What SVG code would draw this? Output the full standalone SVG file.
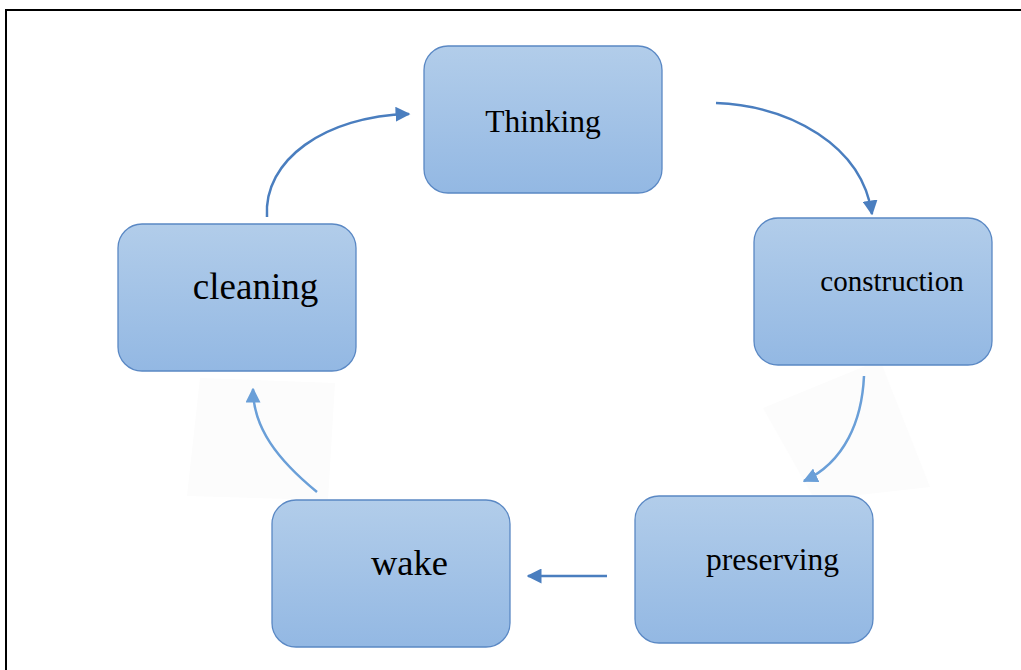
<svg xmlns="http://www.w3.org/2000/svg" width="1021" height="670" viewBox="0 0 1021 670">
<defs>
<linearGradient id="g" x1="0" y1="0" x2="0" y2="1">
<stop offset="0" stop-color="#b2cdea"/>
<stop offset="1" stop-color="#93b8e3"/>
</linearGradient>
<marker id="ah" viewBox="0 0 10 10" refX="9" refY="5" markerWidth="6" markerHeight="6" markerUnits="strokeWidth" orient="auto">
<path d="M0,0 L10,5 L0,10 z" fill="#4a7ebf"/>
</marker>
<marker id="ahf" viewBox="0 0 10 10" refX="9" refY="5" markerWidth="6" markerHeight="6" markerUnits="strokeWidth" orient="auto">
<path d="M0,0 L10,5 L0,10 z" fill="#6a9fd8"/>
</marker>
<filter id="blur" x="-20%" y="-20%" width="140%" height="140%"><feGaussianBlur stdDeviation="0.7"/></filter>
</defs>
<style>
.box{fill:url(#g);stroke:#5a88c4;stroke-width:1.3}
.lbl{font-family:"Liberation Serif","Times New Roman",serif;fill:#000;text-anchor:middle}
.c{fill:none;stroke:#4a7ebf;stroke-width:2.5}
.cf{fill:none;stroke:#6a9fd8;stroke-width:2.5}
</style>
<rect x="0" y="0" width="1021" height="670" fill="#fff"/>
<rect x="6" y="10" width="1030" height="690" fill="none" stroke="#000" stroke-width="2"/>
<g id="faded-backgrounds">
<polygon points="200,378 335,383 328,500 187,496" fill="#fcfcfc"/>
<polygon points="763,408 880,360 930,487 815,500" fill="#fcfcfc"/>
</g>
<g id="connectors">
<path class="c" d="M267,217 C263,160 325,116 409,114" marker-end="url(#ah)"/>
<path class="c" d="M716,103 C790,106 862,145 872,214" marker-end="url(#ah)"/>
<path class="cf" filter="url(#blur)" d="M864,376 C862,420 845,462 804,481" marker-end="url(#ahf)"/>
<path class="c" d="M607,576 L528,576" marker-end="url(#ah)"/>
<path class="cf" filter="url(#blur)" d="M317,492 C278,460 253,428 253,389" marker-end="url(#ahf)"/>
</g>
<g id="node-thinking">
<rect class="box" x="424" y="46" width="238" height="147" rx="24"/>
<text class="lbl" x="543" y="132" font-size="31.5">Thinking</text>
</g>
<g id="node-construction">
<rect class="box" x="754" y="218" width="238" height="147" rx="24"/>
<text class="lbl" x="892" y="291" font-size="29">construction</text>
</g>
<g id="node-cleaning">
<rect class="box" x="118" y="224" width="238" height="147" rx="24"/>
<text class="lbl" x="255.5" y="299" font-size="37">cleaning</text>
</g>
<g id="node-wake">
<rect class="box" x="272" y="500" width="238" height="147" rx="24"/>
<text class="lbl" x="409.5" y="575" font-size="36.5">wake</text>
</g>
<g id="node-preserving">
<rect class="box" x="635" y="496" width="238" height="147" rx="24"/>
<text class="lbl" x="772.5" y="570" font-size="31.5">preserving</text>
</g>
</svg>
